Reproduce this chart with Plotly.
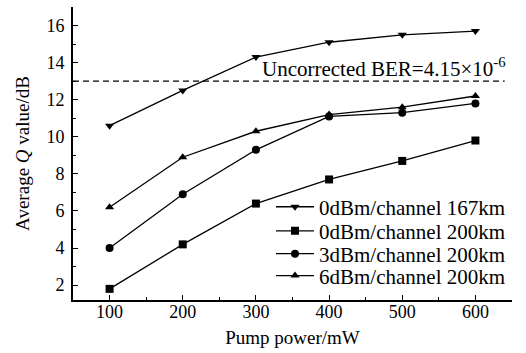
import plotly.graph_objects as go

pump = [100, 200, 300, 400, 500, 600]
q_0dbm_167 = [10.6, 12.5, 14.3, 15.1, 15.5, 15.7]
q_0dbm_200 = [1.8, 4.2, 6.4, 7.7, 8.7, 9.8]
q_3dbm_200 = [4.0, 6.9, 9.3, 11.1, 11.3, 11.8]
q_6dbm_200 = [6.2, 8.9, 10.3, 11.2, 11.6, 12.2]
threshold = 13
series = [
    ("0dBm/channel 167km", q_0dbm_167, "triangle-down"),
    ("0dBm/channel 200km", q_0dbm_200, "square"),
    ("3dBm/channel 200km", q_3dbm_200, "circle"),
    ("6dBm/channel 200km", q_6dbm_200, "triangle-up"),
]

FONT = "Liberation Serif, Times New Roman, serif"
fig = go.Figure()
legend_ids = ["legend", "legend2", "legend3", "legend4"]
legend_y = [0.317, 0.235, 0.157, 0.082]
for (name, vals, sym), lid in zip(series, legend_ids):
    fig.add_trace(go.Scatter(x=pump, y=vals, name=name, mode="lines+markers", legend=lid,
                             line=dict(color="black", width=1.3),
                             marker=dict(symbol=sym, size=8, color="black")))

fig.add_shape(type="line", xref="x", yref="y", x0=50, x1=640, y0=threshold, y1=threshold,
              line=dict(color="black", width=1.2, dash="6px,4px"))
fig.add_annotation(x=645, y=threshold, xref="x", yref="y", xanchor="right", yanchor="bottom",
                   text="Uncorrected BER=4.15×10<sup>-6</sup>", showarrow=False,
                   font=dict(family=FONT, size=21, color="black"), yshift=-2)

legend_common = dict(x=0.451, xanchor="left", yanchor="middle", bgcolor="rgba(0,0,0,0)",
                     font=dict(size=21), itemwidth=38)
layout_legends = {lid: dict(legend_common, y=ly) for lid, ly in zip(legend_ids, legend_y)}

fig.update_layout(
    width=526, height=353,
    margin=dict(l=73, r=14, t=7, b=53),
    paper_bgcolor="white", plot_bgcolor="white",
    font=dict(family=FONT, size=18, color="black"),
    showlegend=True,
    xaxis=dict(range=[50, 650], tickvals=pump, ticks="inside", ticklen=5,
               showgrid=False, zeroline=False, showline=True, linecolor="black", linewidth=2,
               tickcolor="black", tickfont=dict(size=18), ticklabelstandoff=-6,
               minor=dict(tickvals=[150, 250, 350, 450, 550, 650], ticks="inside", ticklen=3,
                          tickcolor="black", showgrid=False),
               title=dict(text="Pump power/mW", standoff=10, font=dict(size=19))),
    yaxis=dict(range=[1.2, 17], tickvals=[2, 4, 6, 8, 10, 12, 14, 16], ticks="inside", ticklen=5,
               showgrid=False, zeroline=False, showline=True, linecolor="black", linewidth=2,
               tickcolor="black", tickfont=dict(size=18), ticklabelstandoff=3,
               minor=dict(tickvals=[3, 5, 7, 9, 11, 13, 15], ticks="inside", ticklen=3,
                          tickcolor="black", showgrid=False),
               title=dict(text="Average <i>Q</i> value/dB", standoff=12, font=dict(size=19))),
    **layout_legends,
)
fig.write_html("out.html", post_script="document.body.style.margin='0';",
               config={"displayModeBar": False})
